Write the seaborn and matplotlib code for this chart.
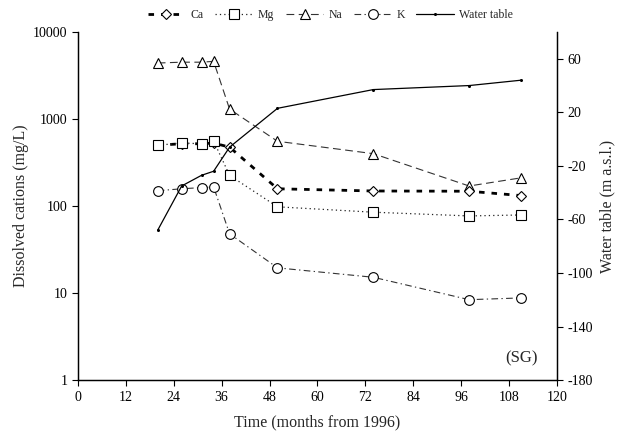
import matplotlib
matplotlib.use("Agg")
import matplotlib.pyplot as plt
import seaborn as sns
import pandas as pd
import numpy as np

months = [20, 26, 31, 34, 38, 50, 74, 98, 111]
ca = [500, 520, 520, 530, 475, 158, 149, 148, 132]
mg = [500, 530, 520, 560, 225, 98, 85, 77, 79]
na = [4400, 4500, 4500, 4600, 1300, 555, 400, 170, 211]
k = [150, 158, 163, 166, 48, 19.5, 15.2, 8.4, 8.8]
water = [-68, -35, -27, -24, -6, 23, 37, 40, 44]

xticks = list(range(0, 121, 12))
left_ticks = [1, 10, 100, 1000, 10000]
right_ticks = [60, 20, -20, -60, -100, -140, -180]

sns.set_theme(style="ticks")
plt.rcParams['font.family'] = ['Liberation Serif', 'DejaVu Serif']

fig = plt.figure(figsize=(6.23, 4.42), dpi=100)
ax = fig.add_axes([0.125, 0.140, 0.769, 0.7876])
ax2 = ax.twinx()

df = pd.DataFrame({"month": months, "Ca": ca, "Mg": mg, "Na": na, "K": k, "Water": water})

mk = dict(markerfacecolor="white", markeredgecolor="black", markeredgewidth=0.8, markersize=7)
sns.lineplot(data=df, x="month", y="Na", ax=ax, color="#333333", lw=0.8,
             marker="^", linestyle=(0, (7, 4)), label="Na", **mk)
sns.lineplot(data=df, x="month", y="Ca", ax=ax, color="black", lw=2.0,
             marker="D", linestyle=(0, (2, 2.5)), label="Ca",
             markerfacecolor="white", markeredgecolor="black", markeredgewidth=0.8, markersize=5.5)
sns.lineplot(data=df, x="month", y="Mg", ax=ax, color="#222222", lw=0.9,
             marker="s", linestyle=(0, (1, 2.5)), label="Mg", **mk)
sns.lineplot(data=df, x="month", y="K", ax=ax, color="#333333", lw=0.8,
             marker="o", linestyle=(0, (6, 3, 1.2, 3)), label="K", **mk)
sns.lineplot(data=df, x="month", y="Water", ax=ax2, color="black", lw=0.9,
             marker="o", markersize=2.2, markeredgewidth=0, label="Water table")

ax.set_yscale("log")
ax.set_ylim(1, 10000)
ax.set_xlim(0, 120)
ax.set_xticks(xticks)
ax.set_xticklabels([str(t) for t in xticks])
ax.set_yticks(left_ticks)
ax.set_yticklabels([str(t) for t in left_ticks])
ax.yaxis.set_minor_locator(matplotlib.ticker.NullLocator())
ax2.set_ylim(-180, 80)
ax2.set_yticks(right_ticks)
ax2.set_yticklabels([str(t) for t in right_ticks])

for a in (ax, ax2):
    a.spines["top"].set_visible(False)
    for s in a.spines.values():
        s.set_linewidth(0.9)
        s.set_color("black")
    a.tick_params(axis="both", direction="out", length=4, width=0.8, labelsize=10, colors="black")

ax.set_xlabel("Time (months from 1996)", fontsize=11.5, labelpad=8)
ax.set_ylabel("Dissolved cations (mg/L)", fontsize=11.5, labelpad=3)
ax2.set_ylabel("Water table (m a.s.l.)", fontsize=11.5, labelpad=5)

ax.text(0.927, 0.063, "(SG)", transform=ax.transAxes, ha="center", va="center", fontsize=12)

ax.get_legend().remove()
ax2.get_legend().remove()
h1, l1 = ax.get_legend_handles_labels()
h2, l2 = ax2.get_legend_handles_labels()
order = ["Ca", "Mg", "Na", "K"]
handles = [h1[l1.index(o)] for o in order] + h2
labels = order + l2
fig.legend(handles, labels, loc="center", bbox_to_anchor=(0.53, 0.966), ncol=5, frameon=False,
           fontsize=8.5, handlelength=3.2, columnspacing=1.0, handletextpad=0.4)

fig.savefig("out.png", dpi=100)
